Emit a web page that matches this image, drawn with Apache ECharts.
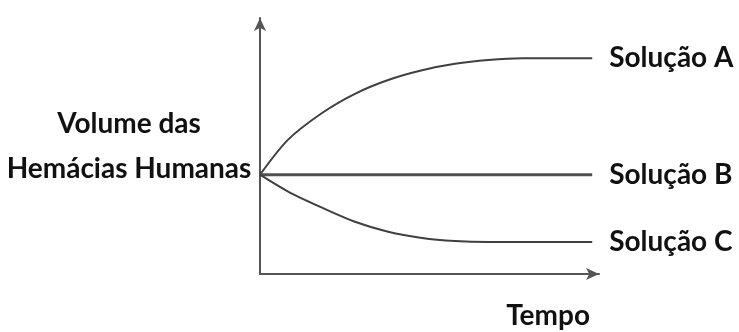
<!DOCTYPE html>
<html>
<head>
    <meta charset="utf-8">
    <title>Volume das hemácias</title>
    <script src="https://cdn.jsdelivr.net/npm/echarts@6/dist/echarts.min.js"></script>
    <style>
        html, body {
            margin: 0;
            width: 100%;
            height: 100%;
            background: #fff;
        }

        #main {
            width: 739px;
            height: 332px;
        }
    </style>
</head>
<body>
<div id="main"></div>
<script type="text/javascript">
    var myChart = echarts.init(document.getElementById('main'));

    // tempo (eixo x) e volume das hemácias para cada solução
    const tempo = [0, 8.3, 18.3, 28, 37.8, 47.8, 57.5, 67.3, 77.3, 98];
    const solucaoA = [38.8, 52.5, 62.9, 70.4, 75.8, 79.6, 82.1, 83.6, 84.3, 84.3];
    const solucaoB = [38.8, 38.8, 38.8, 38.8, 38.8, 38.8, 38.8, 38.8, 38.8, 38.8];
    const solucaoC = [38.8, 32.2, 25.9, 20.4, 16.5, 14.1, 12.9, 12.5, 12.5, 12.5];

    const nomes = ['Solução A', 'Solução B', 'Solução C'];
    const valores = [solucaoA, solucaoB, solucaoC];

    const fonte = {
        fontFamily: 'Lato',
        fontWeight: 'bold',
        fontSize: 28,
        color: '#111'
    };

    const series = nomes.map((nome, i) => ({
        name: nome,
        type: 'line',
        data: tempo.map((t, j) => [t, valores[i][j]]),
        smooth: i === 1 ? false : 0.3,
        showSymbol: false,
        lineStyle: {
            color: i === 1 ? '#505050' : '#404040',
            width: i === 1 ? 3 : 2
        },
        endLabel: Object.assign({
            show: true,
            formatter: '{a}',
            distance: 17
        }, fonte)
    }));

    var option = {
        animation: false,
        grid: {
            left: 260,
            right: 140,
            top: 18,
            bottom: 58
        },
        xAxis: {
            type: 'value',
            min: 0,
            max: 100,
            name: 'Tempo',
            nameLocation: 'end',
            nameGap: -9,
            nameTextStyle: Object.assign({
                align: 'right',
                verticalAlign: 'top',
                padding: [28, 0, 0, 0]
            }, fonte),
            axisLine: {
                lineStyle: {color: '#555', width: 2},
                symbol: ['none', 'arrow'],
                symbolSize: [9, 13]
            },
            axisTick: {show: false},
            axisLabel: {show: false},
            splitLine: {show: false}
        },
        yAxis: {
            type: 'value',
            min: 0,
            max: 100,
            name: 'Volume das\nHemácias Humanas',
            nameLocation: 'middle',
            nameRotate: 0,
            nameGap: 131,
            nameTextStyle: Object.assign({
                align: 'center',
                verticalAlign: 'middle',
                lineHeight: 45
            }, fonte),
            axisLine: {
                lineStyle: {color: '#555', width: 2},
                symbol: ['none', 'arrow'],
                symbolSize: [9, 13]
            },
            axisTick: {show: false},
            axisLabel: {show: false},
            splitLine: {show: false}
        },
        series: series
    };

    myChart.setOption(option);
</script>
</body>
</html>
